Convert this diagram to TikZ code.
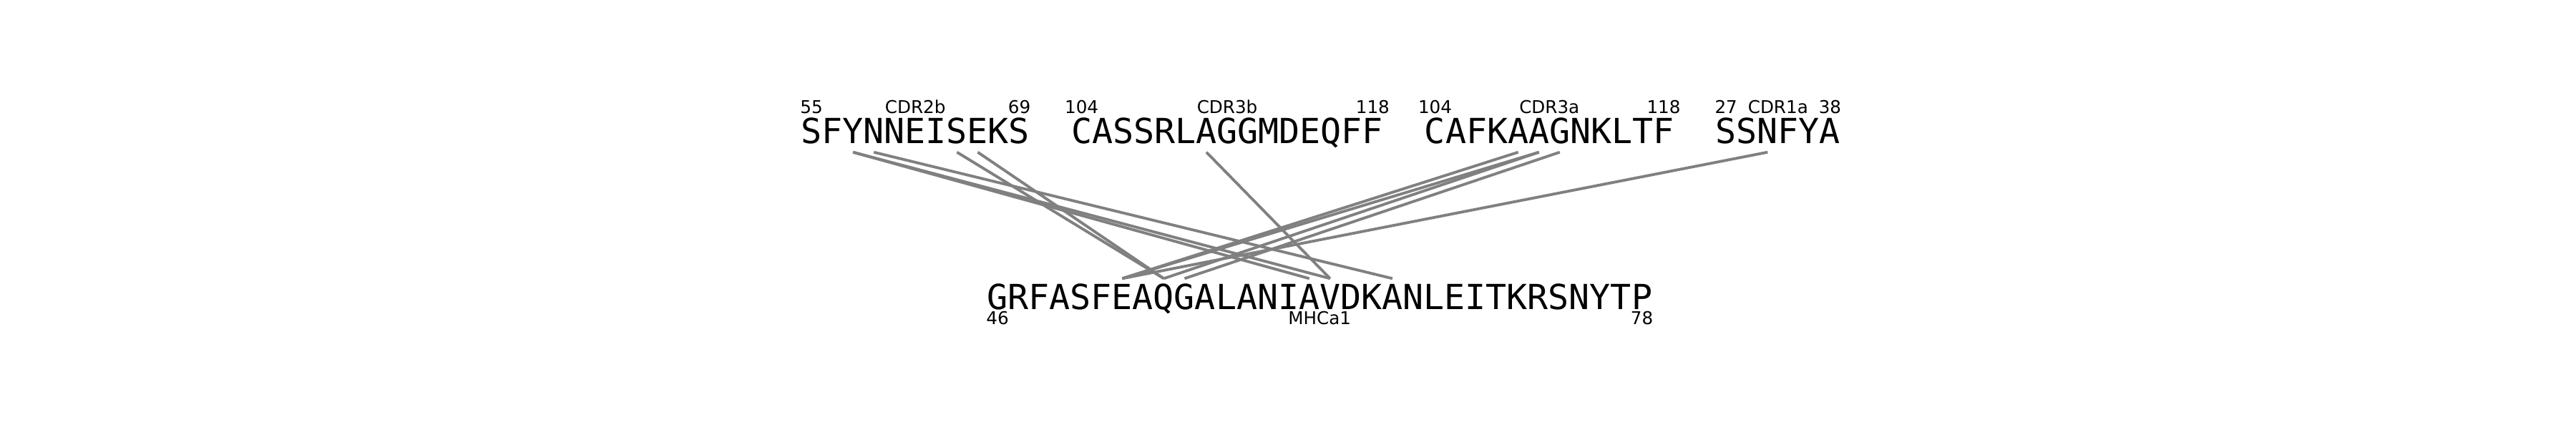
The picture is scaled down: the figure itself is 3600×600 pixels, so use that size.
\documentclass[tikz,border=0pt]{standalone}
\usepackage{fontspec}
\newfontfamily\seqfont{DejaVu Sans Mono}
\newfontfamily\lblfont{DejaVu Sans}
\usetikzlibrary{positioning,calc}

\begin{document}
\begin{tikzpicture}[x=0.01cm, y=-0.01cm, line cap=butt,
  res/.style={inner sep=0pt, anchor=base, font=\seqfont\fontsize{13.73}{14}\selectfont},
  restop/.style={res, text height=0.36cm, text depth=0.12cm},
  resbot/.style={res, text height=0.42cm, text depth=0pt},
  lbl/.style={inner sep=0pt, anchor=base, font=\lblfont\fontsize{7}{8}\selectfont},
  link/.style={draw=gray, line width=1.1pt}]
  \useasboundingbox (0,0) rectangle (3600,600);

  % ketens boven
  \foreach \c [count=\i] in {S,F,Y,N,N,E,I,S,E,K,S}
    \node[restop] (cdr2b-\i) at ({1134+(\i-1)*29.05},200) {\c};
  \foreach \c [count=\i] in {C,A,S,S,R,L,A,G,G,M,D,E,Q,F,F}
    \node[restop] (cdr3b-\i) at ({1134+(\i+12)*29.05},200) {\c};
  \foreach \c [count=\i] in {C,A,F,K,A,A,G,N,K,L,T,F}
    \node[restop] (cdr3a-\i) at ({1134+(\i+29)*29.05},200) {\c};
  \foreach \c [count=\i] in {S,S,N,F,Y,A}
    \node[restop] (cdr1a-\i) at ({1134+(\i+43)*29.05},200) {\c};

  % keten onder
  \foreach \c [count=\i] in {G,R,F,A,S,F,E,A,Q,G,A,L,A,N,I,A,V,D,K,A,N,L,E,I,T,K,R,S,N,Y,T,P}
    \node[resbot] (mhc-\i) at ({1394+(\i-1)*29.05},432) {\c};

  % contacten
  \foreach \a/\b in {cdr2b-3/mhc-16, cdr2b-3/mhc-17, cdr2b-4/mhc-20,
                     cdr2b-8/mhc-9, cdr2b-9/mhc-9, cdr3b-7/mhc-17,
                     cdr3a-5/mhc-7, cdr3a-6/mhc-7, cdr3a-6/mhc-9,
                     cdr3a-7/mhc-10, cdr1a-3/mhc-7}
    \draw[link] (\a.south) -- (\b.north);

  % labels boven
  \node[lbl] (l2b-a) at ([yshift=0.41cm]cdr2b-1.base) {55};
  \node[lbl] (l2b-n) at ([yshift=0.41cm]$(cdr2b-1.base)!0.5!(cdr2b-11.base)$) {CDR2b};
  \node[lbl] (l2b-b) at ([yshift=0.41cm]cdr2b-11.base) {69};
  \node[lbl] (l3b-a) at ([yshift=0.41cm]cdr3b-1.base) {104};
  \node[lbl] (l3b-n) at ([yshift=0.41cm]$(cdr3b-1.base)!0.5!(cdr3b-15.base)$) {CDR3b};
  \node[lbl] (l3b-b) at ([yshift=0.41cm]cdr3b-15.base) {118};
  \node[lbl] (l3a-a) at ([yshift=0.41cm]cdr3a-1.base) {104};
  \node[lbl] (l3a-n) at ([yshift=0.41cm]$(cdr3a-1.base)!0.5!(cdr3a-12.base)$) {CDR3a};
  \node[lbl] (l3a-b) at ([yshift=0.41cm]cdr3a-12.base) {118};
  \node[lbl] (l1a-a) at ([yshift=0.41cm]cdr1a-1.base) {27};
  \node[lbl] (l1a-n) at ([yshift=0.41cm]$(cdr1a-1.base)!0.5!(cdr1a-6.base)$) {CDR1a};
  \node[lbl] (l1a-b) at ([yshift=0.41cm]cdr1a-6.base) {38};

  % labels onder
  \node[lbl] (lm-a) at ([yshift=-0.21cm]mhc-1.base) {46};
  \node[lbl] (lm-n) at ([yshift=-0.21cm]$(mhc-1.base)!0.5!(mhc-32.base)$) {MHCa1};
  \node[lbl] (lm-b) at ([yshift=-0.21cm]mhc-32.base) {78};
\end{tikzpicture}
\end{document}
